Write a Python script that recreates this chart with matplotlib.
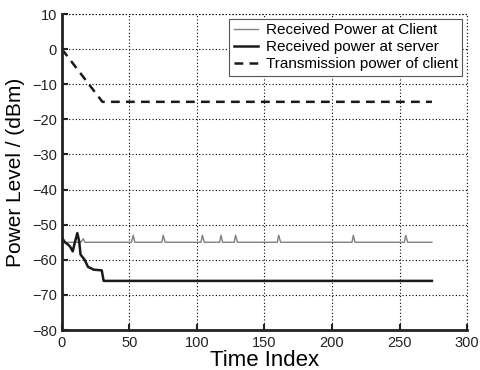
import matplotlib
matplotlib.use("Agg")
import matplotlib.pyplot as plt

plt.rcParams['font.family'] = ['Liberation Sans', 'DejaVu Sans']

# Received power at client: flat around -55 dBm with short spikes
client_t = [0, 14, 15.8, 17, 51.5, 52.8, 54, 74, 75, 76.5, 103, 104, 105.5,
            116.8, 117.8, 119, 127.6, 128.6, 130, 159.5, 160.5, 162,
            214.8, 215.8, 217, 253.6, 254.6, 256, 274]
client_db = [-55, -55, -54, -55, -55, -53, -55, -55, -53, -55, -55, -53, -55,
             -55, -53, -55, -55, -53, -55, -55, -53, -55,
             -55, -53, -55, -55, -53, -55, -55]

# Received power at server
server_t = [0.7, 2.2, 4, 6, 8, 9.6, 11.4, 12.8, 13.8, 16.8, 19.3, 23.5, 29.5,
            30.9, 274]
server_db = [-54.1, -55, -55.5, -56.2, -57.6, -55, -52.4, -54.8, -58.5, -60,
             -62, -62.8, -63, -66, -66]

# Transmission power of client
tx_t = [0, 30, 274]
tx_db = [0, -15, -15]

fig = plt.figure(figsize=(4.8, 3.7), dpi=100)
ax = fig.add_axes([0.129, 0.108, 0.844, 0.854])

ax.plot(client_t, client_db, color='#808080', lw=1.0,
        label='Received Power at Client')
ax.plot(server_t, server_db, color='#1a1a1a', lw=1.8,
        label='Received power at server')
ax.plot(tx_t, tx_db, color='#1a1a1a', lw=1.8, ls=(0, (3.5, 2.5)),
        label='Transmission power of client')

ax.set_xlim(0, 300)
ax.set_ylim(-80, 10)
ax.set_xticks(range(0, 301, 50))
ax.set_yticks(range(-80, 11, 10))
ax.grid(True, ls=(0, (1, 2)), color='black', lw=0.8)
for s in ['top', 'right']:
    ax.spines[s].set_visible(False)
for s in ['left', 'bottom']:
    ax.spines[s].set_linewidth(2)
    ax.spines[s].set_color('#222222')
# dotted frame at top/right like the grid
ax.axhline(10, ls=(0, (1, 2)), color='black', lw=0.8, clip_on=False)
ax.axvline(300, ls=(0, (1, 2)), color='black', lw=0.8, clip_on=False)

ax.tick_params(direction='in', length=4, width=1.5, labelsize=10.5,
               colors='#222222')
ax.tick_params(axis='x', pad=4)
ax.set_xlabel('Time Index', fontsize=16, labelpad=0.5)
ax.set_ylabel('Power Level / (dBm)', fontsize=15, labelpad=5)

leg = ax.legend(loc='upper right', fontsize=11, fancybox=False,
                framealpha=1, edgecolor='#555555', handlelength=1.6,
                borderpad=0.3, labelspacing=0.2, handletextpad=0.5,
                borderaxespad=0.3)
leg.get_frame().set_linewidth(0.8)

fig.savefig('out.png', dpi=100)
